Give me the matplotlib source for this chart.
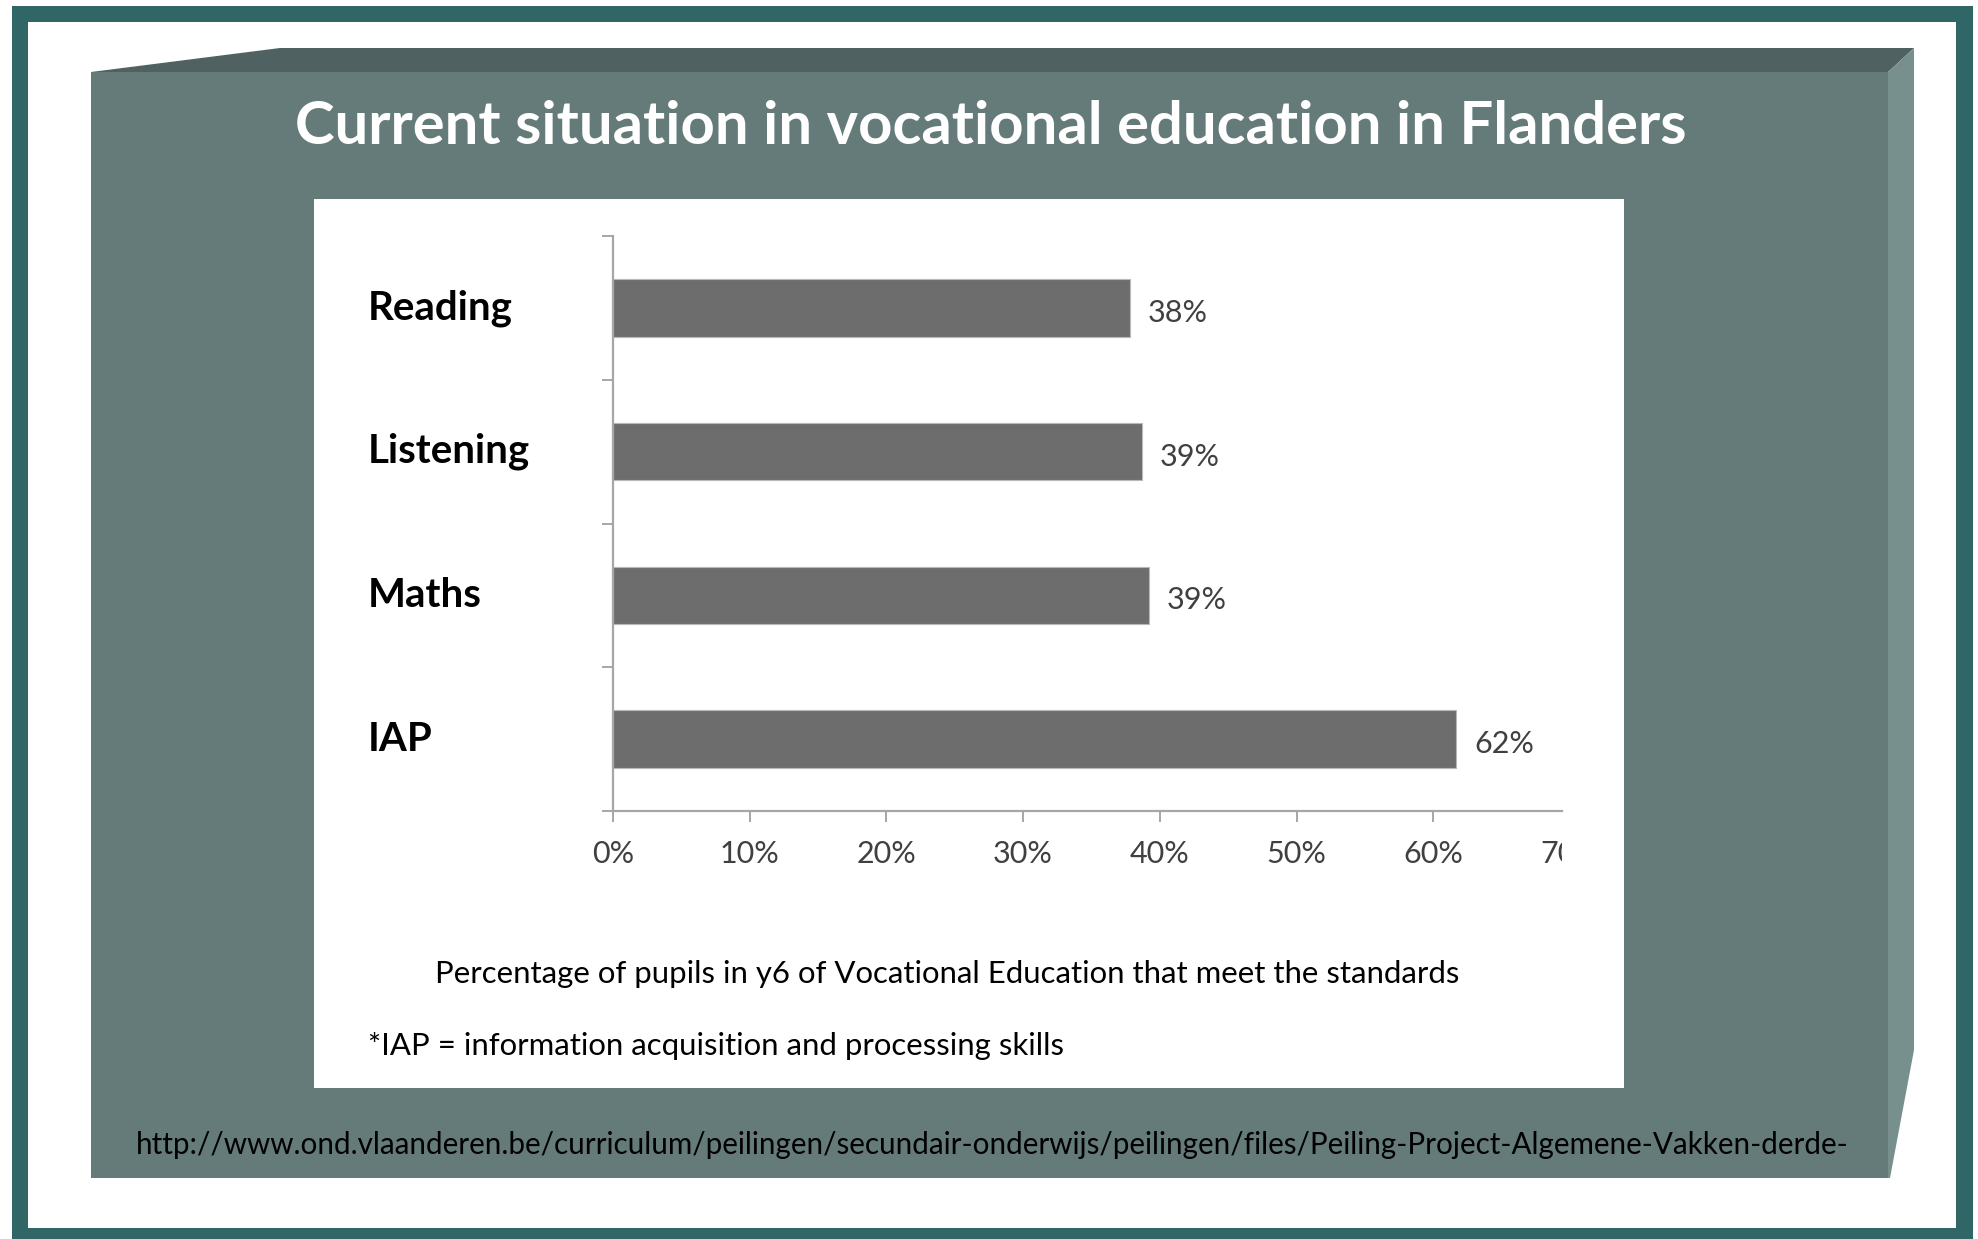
import numpy as np
import matplotlib.pyplot as plt
from matplotlib.patches import Polygon, Rectangle
from matplotlib.transforms import blended_transform_factory, Bbox, TransformedBbox

W, H = 1978, 1239

categories = ["Reading", "Listening", "Maths", "IAP"]
shares = [0.378, 0.387, 0.392, 0.617]
value_labels = ["38%", "39%", "39%", "62%"]
x_ticks = [0.0, 0.1, 0.2, 0.3, 0.4, 0.5, 0.6, 0.7]
x_tick_labels = ["0%", "10%", "20%", "30%", "40%", "50%", "60%", "70%"]

TITLE = "Current situation in vocational education in Flanders"
SUBTITLE = "Percentage of pupils in y6 of Vocational Education that meet the standards"
FOOTNOTE = "*IAP = information acquisition and processing skills"
URL = ("http://www.ond.vlaanderen.be/curriculum/peilingen/secundair-onderwijs/"
       "peilingen/files/Peiling-Project-Algemene-Vakken-derde-")

plt.rcParams['font.family'] = ['Lato', 'DejaVu Sans']

fig = plt.figure(figsize=(W / 100, H / 100), dpi=100)

# background in pixel coords (y down)
bg = fig.add_axes([0, 0, 1, 1])
bg.set_xlim(0, W)
bg.set_ylim(H, 0)
bg.axis('off')

bg.add_patch(Rectangle((12, 6), 1961, 1300, facecolor='#316666', edgecolor='none'))
bg.add_patch(Rectangle((28, 22), 1928, 1206, facecolor='white', edgecolor='none'))
# 3d slab: top face, right face, front face
bg.add_patch(Polygon([(91, 72), (280, 48), (1914, 48), (1888, 72)],
                     facecolor='#4f6160', edgecolor='none'))
bg.add_patch(Polygon([(1888, 72), (1914, 48), (1914, 1050), (1890, 1178), (1888, 1178)],
                     facecolor='#778f8d', edgecolor='none'))
bg.add_patch(Rectangle((91, 72), 1797, 1106, facecolor='#657b7a', edgecolor='none'))
# white chart box
bg.add_patch(Rectangle((314, 199), 1310, 889, facecolor='white', edgecolor='none'))

bg.text(991, 127, TITLE, color='white', fontsize=43, fontweight='bold',
        ha='center', va='center')
bg.text(947, 974, SUBTITLE, fontsize=22.4, ha='center', va='center', color='black')
bg.text(368, 1046, FOOTNOTE, fontsize=22.4, ha='left', va='center', color='black')
bg.text(136, 1145, URL, fontsize=21.3, ha='left', va='center', color='black')

# chart
ax = fig.add_axes([613 / W, 1 - 811 / H, (1562 - 613) / W, (811 - 236) / H])
ax.patch.set_alpha(0)
ypos = np.arange(len(categories))[::-1]
ax.barh(ypos, shares, height=0.4, color='#6d6d6d', edgecolor='#b8b8b8', linewidth=0.8)

ax.set_xlim(0, 949 / 1367)
ax.set_ylim(-0.5, 3.5)

for s in ['top', 'right']:
    ax.spines[s].set_visible(False)
for s in ['left', 'bottom']:
    ax.spines[s].set_color('#a6a6a6')
    ax.spines[s].set_linewidth(1.6)

ax.set_yticks(np.arange(-0.5, len(categories), 1.0))
ax.set_yticklabels([])
ax.set_xticks(x_ticks[:-1])
ax.set_xticklabels(x_tick_labels[:-1])
ax.tick_params(axis='both', length=8, width=1.4, color='#a6a6a6')
ax.tick_params(axis='x', labelsize=22, labelcolor='#404040', pad=13)

trans = blended_transform_factory(bg.transData, ax.transData)
for y, name in zip(ypos, categories):
    ax.text(368, y, name, transform=trans, fontsize=29, fontweight='bold',
            ha='left', va='center', color='black')

for y, v, lbl in zip(ypos, shares, value_labels):
    ax.annotate(lbl, (v, y), xytext=(18, -5), textcoords='offset pixels',
                fontsize=22, color='#404040', ha='left', va='center')

# last tick label is cut off at the right in the original
fig.canvas.draw()
bb = ax.get_xticklabels()[0].get_window_extent()
yy = ax.transData.inverted().transform((0, bb.y1))[1]
t = ax.text(x_ticks[-1], yy, x_tick_labels[-1], fontsize=22, color='#404040',
            ha='center', va='top', clip_on=True)
t.set_clip_box(TransformedBbox(Bbox([[0, 0], [1562 / W, 1]]), fig.transFigure))

fig.savefig('out.png', dpi=100)
